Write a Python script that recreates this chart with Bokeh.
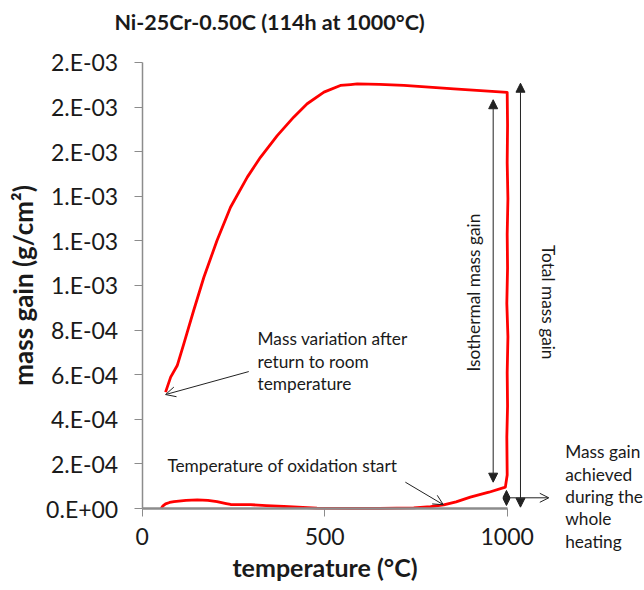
from bokeh.plotting import figure
from bokeh.models import Range1d, FixedTicker, Label, Arrow, OpenHead, NormalHead
from bokeh.embed import file_html
from bokeh.resources import INLINE

# ---- data (temperature in °C, mass gain in g/cm²) ----
heat_T = [52, 57, 64, 75, 87, 120, 151, 180, 205, 230, 242, 297, 340, 388, 479, 571, 650, 744, 790, 826, 860, 899, 950, 995]
heat_m = [0.0, 1.2e-5, 2.1e-5, 2.7e-5, 3.1e-5, 3.6e-5, 3.9e-5, 3.6e-5, 3.1e-5, 2.2e-5, 1.8e-5, 1.7e-5, 1.3e-5, 9e-6,
          2e-6, 1e-6, 1e-6, 3e-6, 8e-6, 1.6e-5, 3.0e-5, 5.1e-5, 7.3e-5, 9.6e-5]

iso_T = [1000, 999, 1001, 1000, 1002, 999, 1001, 1000, 1002, 1000, 1001, 1000]
iso_m = [1.5e-4, 3.2e-4, 4.6e-4, 6.1e-4, 7.7e-4, 9.2e-4, 1.08e-3, 1.23e-3, 1.39e-3, 1.55e-3, 1.72e-3, 1.866e-3]

cool_T = [854, 717, 650, 589, 571, 543, 498, 452, 415, 370, 324, 288, 242, 205, 169, 141, 114, 96, 78, 64]
cool_m = [1.882e-3, 1.897e-3, 1.902e-3, 1.904e-3, 1.901e-3, 1.897e-3, 1.867e-3, 1.815e-3, 1.755e-3, 1.672e-3,
          1.575e-3, 1.486e-3, 1.351e-3, 1.202e-3, 1.037e-3, 0.888e-3, 0.738e-3, 0.641e-3, 0.589e-3, 0.522e-3]

x_ticks = [0, 500, 1000]
y_ticks = [0.0, 0.0002, 0.0004, 0.0006, 0.0008, 0.001, 0.0012, 0.0014, 0.0016, 0.0018, 0.002]
y_tick_labels = ["0.E+00", "2.E-04", "4.E-04", "6.E-04", "8.E-04", "1.E-03", "1.E-03", "1.E-03",
                 "2.E-03", "2.E-03", "2.E-03"]

title_text = "Ni-25Cr-0.50C (114h at 1000°C)"
x_label = "temperature (°C)"
y_label = "mass gain (g/cm²)"

FONT = "Lato"
TXT = "#1a1a1a"

# frame covers the whole canvas; axes sit at x=0 / y=0 with bounds
p = figure(frame_width=644, frame_height=590,
           min_border_left=0, min_border_right=0, min_border_top=0, min_border_bottom=0,
           x_range=Range1d(-388.2, 1376.2), y_range=Range1d(-3.677e-4, 2.278e-3),
           output_backend="svg", toolbar_location=None)
p.outline_line_color = None
p.xgrid.visible = False
p.ygrid.visible = False
p.background_fill_color = "white"
p.border_fill_color = "white"

T_all = heat_T + iso_T + cool_T
m_all = heat_m + iso_m + cool_m
p.line(T_all, m_all, line_color="#ff0000", line_width=2.8, line_join="round")

# axes
p.xaxis.fixed_location = 0
p.yaxis.fixed_location = 0
p.xaxis.bounds = (0, 1000)
p.yaxis.bounds = (0, 0.002)
p.xaxis.ticker = FixedTicker(ticks=x_ticks)
p.yaxis.ticker = FixedTicker(ticks=y_ticks)
p.yaxis.major_label_overrides = {t: s for t, s in zip(y_ticks, y_tick_labels)}
for ax in (p.xaxis[0], p.yaxis[0]):
    ax.axis_line_color = "#8c8c8c"
    ax.major_tick_line_color = "#8c8c8c"
    ax.major_tick_in = 0
    ax.major_tick_out = 8
    ax.minor_tick_line_color = None
    ax.major_label_text_font = FONT
    ax.major_label_text_font_size = "23px"
    ax.major_label_text_color = TXT
    ax.axis_label_text_font = FONT
    ax.axis_label_text_font_style = "bold"
    ax.axis_label_text_color = TXT
p.xaxis.axis_label_text_font_size = "25px"
p.yaxis.axis_label_text_font_size = "26px"
p.xaxis.axis_line_width = 2.5
p.yaxis.axis_line_width = 1.5
p.xaxis.axis_label = x_label
p.yaxis.axis_label = y_label
p.yaxis.major_label_standoff = 16
p.xaxis.major_label_standoff = 11
p.yaxis.axis_label_standoff = 4
p.xaxis.axis_label_standoff = 4

# title
p.add_layout(Label(x=349, y=0.00218, text=title_text, text_font=FONT, text_font_size="21.5px",
                   text_font_style="bold", text_color=TXT, text_align="center", text_baseline="middle"))


def lab(x, y, t, angle=0.0, align="left"):
    p.add_layout(Label(x=x, y=y, text=t, angle=angle, text_font=FONT, text_font_size="17.3px",
                       text_color=TXT, text_align=align, text_baseline="middle"))


lab(316, 7.62e-4, "Mass variation after")
lab(316, 6.59e-4, "return to room")
lab(316, 5.61e-4, "temperature")
lab(69, 1.93e-4, "Temperature of oxidation start")
lab(908, 9.78e-4, "Isothermal mass  gain", angle=1.5708, align="center")
lab(1114, 9.25e-4, "Total mass gain", angle=-1.5708, align="center")
for y, t in zip([2.56e-4, 1.52e-4, 5.5e-5, -4.5e-5, -1.47e-4],
                ["Mass gain", "achieved", "during the", "whole", "heating"]):
    lab(1159, y, t)

# arrows
AC = "#222222"
p.add_layout(Arrow(x_start=292, y_start=6.14e-4, x_end=64, y_end=5.11e-4, line_color=AC, line_width=1,
                   end=OpenHead(size=10, line_color=AC, line_width=1)))
p.add_layout(Arrow(x_start=721, y_start=1.18e-4, x_end=825, y_end=1.7e-5, line_color=AC, line_width=1,
                   end=OpenHead(size=10, line_color=AC, line_width=1)))
p.add_layout(Arrow(x_start=961.6, y_start=1.18e-4, x_end=961.6, y_end=1.833e-3, line_color=AC, line_width=1,
                   start=NormalHead(size=9, fill_color=AC, line_color=AC),
                   end=NormalHead(size=9, fill_color=AC, line_color=AC)))
p.add_layout(Arrow(x_start=1036.4, y_start=6e-6, x_end=1036.4, y_end=1.907e-3, line_color=AC, line_width=1,
                   start=NormalHead(size=9, fill_color=AC, line_color=AC),
                   end=NormalHead(size=9, fill_color=AC, line_color=AC)))
p.add_layout(Arrow(x_start=998, y_start=1.35e-5, x_end=998, y_end=8.1e-5, line_color=AC, line_width=1,
                   start=NormalHead(size=7, fill_color=AC, line_color=AC),
                   end=NormalHead(size=7, fill_color=AC, line_color=AC)))
p.add_layout(Arrow(x_start=998, y_start=4.8e-5, x_end=1114, y_end=4.8e-5, line_color=AC, line_width=1,
                   end=OpenHead(size=9, line_color=AC, line_width=1)))

open("out.html", "w").write(file_html(p, INLINE))
